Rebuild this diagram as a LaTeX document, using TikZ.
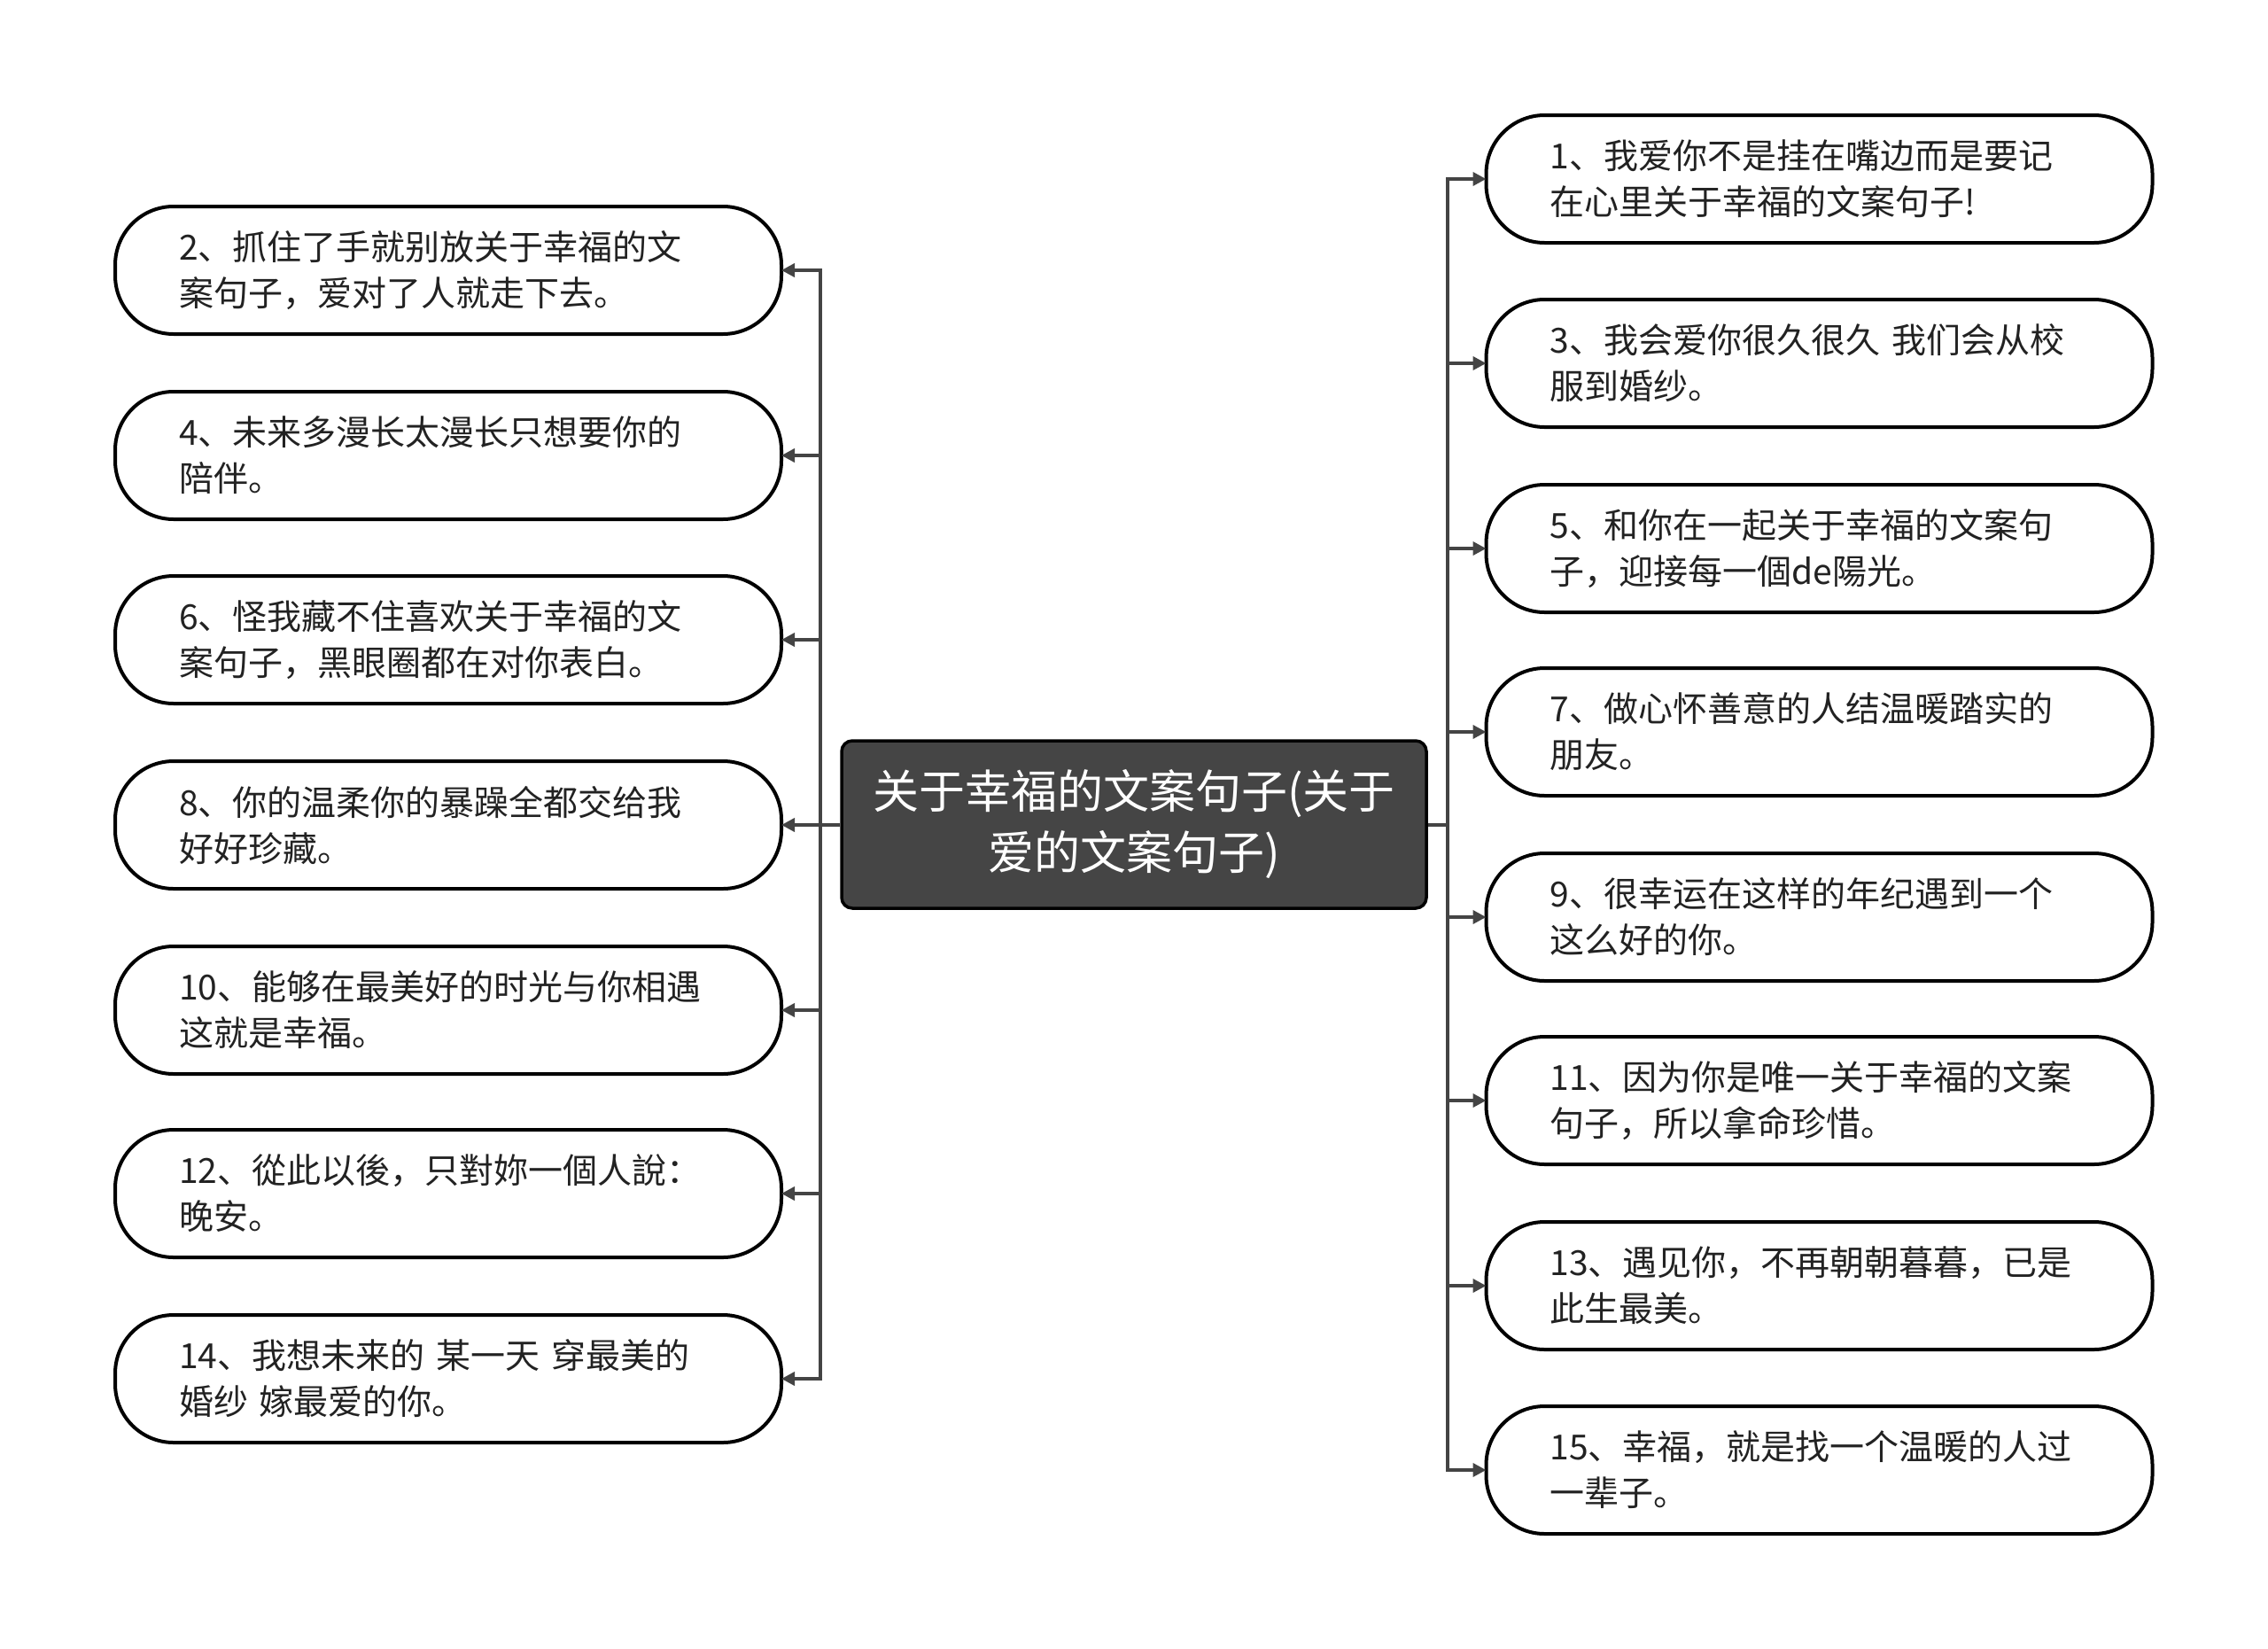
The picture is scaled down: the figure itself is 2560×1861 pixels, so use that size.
\documentclass[tikz,border=0pt]{standalone}
\usepackage{fontspec}
\newfontfamily\cjk{Noto Sans CJK SC}
\usetikzlibrary{arrows.meta}
\definecolor{linegray}{HTML}{444444}
\definecolor{rootfill}{HTML}{454545}
\definecolor{txt}{HTML}{222222}
\tikzset{
  leaf/.style={draw=black, line width=4pt, fill=white, rounded corners=66pt,
    minimum width=752pt, minimum height=144pt, text width=608pt, inner xsep=72pt,
    inner ysep=0pt, align=left, text=txt, font=\cjk\fontsize{39pt}{52pt}\selectfont},
  rootbox/.style={draw=black, line width=3.5pt, fill=rootfill, rounded corners=12pt,
    minimum width=660pt, minimum height=189pt, align=center, text=white,
    font=\cjk\fontsize{52pt}{69pt}\selectfont},
  conn/.style={draw=linegray, line width=4pt},
  arr/.style={conn, -{Triangle[length=15pt,width=15pt]}}
}
\begin{document}
\begin{tikzpicture}[x=1pt,y=-1pt]
\useasboundingbox (0,0) rectangle (2560,1861);
\node[rootbox] (root) at (1280,930.5) {关于幸福的文案句子(关于\\爱的文案句子)};
% left
\node[leaf] (n2)  at (506,305)  {2、抓住了手就别放关于幸福的文\\案句子，爱对了人就走下去。};
\node[leaf] (n4)  at (506,514)  {4、未来多漫长太漫长只想要你的\\陪伴。};
\node[leaf] (n6)  at (506,722)  {6、怪我藏不住喜欢关于幸福的文\\案句子，黑眼圈都在对你表白。};
\node[leaf] (n8)  at (506,931)  {8、你的温柔你的暴躁全都交给我\\好好珍藏。};
\node[leaf] (n10) at (506,1140) {10、能够在最美好的时光与你相遇\\这就是幸福。};
\node[leaf] (n12) at (506,1347) {12、從此以後，只對妳一個人說：\\晚安。};
\node[leaf] (n14) at (506,1556) {14、我想未来的 某一天 穿最美的\\婚纱 嫁最爱的你。};
% right
\node[leaf] (n1)  at (2053.5,202)  {1、我爱你不是挂在嘴边而是要记\\在心里关于幸福的文案句子!};
\node[leaf] (n3)  at (2053.5,410)  {3、我会爱你很久很久 我们会从校\\服到婚纱。};
\node[leaf] (n5)  at (2053.5,619)  {5、和你在一起关于幸福的文案句\\子，迎接每一個de陽光。};
\node[leaf] (n7)  at (2053.5,826)  {7、做心怀善意的人结温暖踏实的\\朋友。};
\node[leaf] (n9)  at (2053.5,1035) {9、很幸运在这样的年纪遇到一个\\这么好的你。};
\node[leaf] (n11) at (2053.5,1242) {11、因为你是唯一关于幸福的文案\\句子，所以拿命珍惜。};
\node[leaf] (n13) at (2053.5,1451) {13、遇见你，不再朝朝暮暮，已是\\此生最美。};
\node[leaf] (n15) at (2053.5,1659) {15、幸福，就是找一个温暖的人过\\一辈子。};
% connectors
\coordinate (tl) at (926,930.5);
\coordinate (tr) at (1634,930.5);
\draw[conn] (root.west) -- (tl);
\draw[conn] (root.east) -- (tr);
\foreach \n in {n2,n4,n6,n8,n10,n12,n14}{
  \draw[arr] (tl) |- ([xshift=-2pt]\n.east);
}
\foreach \n in {n1,n3,n5,n7,n9,n11,n13,n15}{
  \draw[arr] (tr) |- ([xshift=2pt]\n.west);
}
\end{tikzpicture}
\end{document}
